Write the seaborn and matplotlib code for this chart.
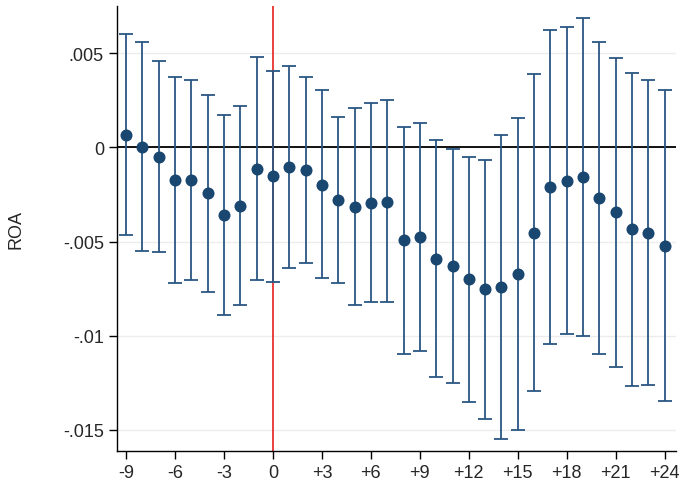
"""plot.py - event-study estimates of ROA with confidence intervals"""
import matplotlib
matplotlib.use("Agg")
import matplotlib.pyplot as plt
import seaborn as sns
import pandas as pd

# event time (months relative to event)
periods = list(range(-9, 25))

# point estimates
coef = [0.00067, 0.0, -0.0005, -0.00174, -0.00174, -0.00243, -0.00361, -0.00312,
        -0.00112, -0.00154, -0.00105, -0.00122, -0.00197, -0.00281, -0.00317, -0.00296,
        -0.00287, -0.00494, -0.00478, -0.0059, -0.00632, -0.00701, -0.00752, -0.00742,
        -0.00671, -0.00455, -0.00212, -0.00177, -0.00156, -0.00269, -0.00345, -0.00435,
        -0.00455, -0.00522]

# confidence interval bounds
ci_high = [0.00603, 0.00558, 0.00457, 0.00373, 0.00357, 0.00279, 0.00173, 0.00218,
           0.00481, 0.00405, 0.00433, 0.00372, 0.00304, 0.00162, 0.00207, 0.00234,
           0.0025, 0.00106, 0.00131, 0.00039, -0.00009, -0.00053, -0.00066, 0.00065,
           0.00159, 0.00388, 0.00624, 0.00637, 0.00688, 0.00559, 0.00473, 0.00398,
           0.00357, 0.00303]
ci_low = [-0.00466, -0.00552, -0.00556, -0.00721, -0.00706, -0.00765, -0.0089, -0.00837,
          -0.00703, -0.00712, -0.00639, -0.00614, -0.00694, -0.00722, -0.00836, -0.00823,
          -0.0082, -0.01096, -0.01082, -0.01218, -0.01252, -0.01349, -0.0144, -0.0155,
          -0.015, -0.01294, -0.01046, -0.00988, -0.01, -0.01096, -0.01165, -0.01267,
          -0.0126, -0.01347]

x_ticks = list(range(-9, 25, 3))
x_labels = [str(t) if t <= 0 else f"+{t}" for t in x_ticks]
y_ticks = [0.005, 0.0, -0.005, -0.01, -0.015]
y_labels = [".005", "0", "-.005", "-.01", "-.015"]

NAVY = "#1a476f"
BAR = "#2a5682"

sns.set_style("ticks")
plt.rcParams["font.family"] = ["Liberation Sans", "DejaVu Sans"]

df = pd.DataFrame({"period": periods, "coef": coef, "lo": ci_low, "hi": ci_high})

fig = plt.figure(figsize=(6.85, 4.81), dpi=100)
ax = fig.add_axes([0.171, 0.061, 0.816, 0.924])

for yt in y_ticks:
    ax.axhline(yt, color="#ececec", lw=1, zorder=0)
ax.axhline(0, color="black", lw=1.3, zorder=1)
ax.axvline(0, color="#e8201c", lw=1.2, zorder=1)

ax.errorbar(df["period"], df["coef"],
            yerr=[df["coef"] - df["lo"], df["hi"] - df["coef"]],
            fmt="none", ecolor=BAR, elinewidth=1.3, capsize=5, capthick=1.3, zorder=2)
sns.scatterplot(data=df, x="period", y="coef", color=NAVY, s=75,
                edgecolor=NAVY, linewidth=0, zorder=3, ax=ax)

ax.set_xlim(-9.55, 24.7)
ax.set_ylim(-0.0161, 0.0075)
ax.set_xticks(x_ticks)
ax.set_xticklabels(x_labels, fontsize=13)
ax.set_yticks(y_ticks)
ax.set_yticklabels(y_labels, fontsize=13)
ax.set_xlabel("")
ax.set_ylabel("ROA", fontsize=13, labelpad=28)
ax.tick_params(length=6, width=1, color="black")
sns.despine(ax=ax)
for side in ["left", "bottom"]:
    ax.spines[side].set_color("black")
    ax.spines[side].set_linewidth(1)

fig.savefig("out.png", dpi=100)
